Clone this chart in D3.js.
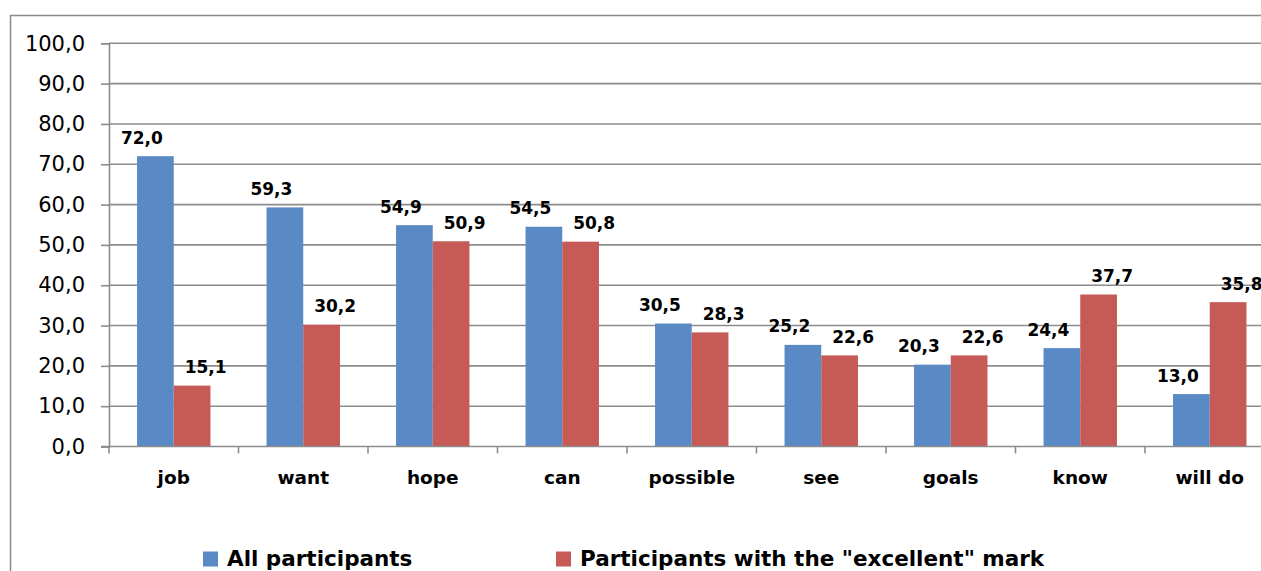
<!DOCTYPE html>
<html>
<head>
<meta charset="utf-8">
<script src="https://cdnjs.cloudflare.com/ajax/libs/d3/7.8.5/d3.min.js"></script>
<style>
  html, body { margin: 0; padding: 0; background: #fff; }
  svg { display: block; }
  text { font-family: "DejaVu Sans", sans-serif; fill: #000; }
</style>
</head>
<body>
<svg id="chart" width="1261" height="571"></svg>
<script>
// Word categories and the two series (percent)
const categories = ["job", "want", "hope", "can", "possible", "see", "goals", "know", "will do"];
const allParticipants = [72.0, 59.3, 54.9, 54.5, 30.5, 25.2, 20.3, 24.4, 13.0];
const excellentMark   = [15.1, 30.2, 50.9, 50.8, 28.3, 22.6, 22.6, 37.7, 35.8];
const seriesNames = ["All participants", "Participants with the \"excellent\" mark"];
const seriesColors = ["#5A8AC6", "#C55A57"];
const yTicks = [0, 10, 20, 30, 40, 50, 60, 70, 80, 90, 100];

const svg = d3.select("#chart");
const fmt = v => d3.format(".1f")(v).replace(".", ",");

// Outer chart frame (continues past the visible area)
svg.append("rect")
  .attr("x", 10.5).attr("y", 15.5)
  .attr("width", 1300).attr("height", 600)
  .attr("fill", "none").attr("stroke", "#8a8a8a").attr("stroke-width", 1.5);

const plot = { left: 109, right: 1274.5, top: 43.3, bottom: 446.5 };

const y = d3.scaleLinear().domain([0, 100]).range([plot.bottom, plot.top]);
const x0 = d3.scaleBand().domain(categories).range([plot.left, plot.right]).padding(0);
const x1 = d3.scaleBand().domain([0, 1]).range([0, x0.bandwidth()]).paddingInner(0).paddingOuter(0.764);

// Horizontal gridlines
svg.append("g").selectAll("line").data(yTicks.filter(t => t > 0)).join("line")
  .attr("x1", plot.left).attr("x2", 1300)
  .attr("y1", d => y(d)).attr("y2", d => y(d))
  .attr("stroke", "#8c8c8c").attr("stroke-width", 1.6);

// Y axis
const yAxis = svg.append("g")
  .attr("transform", `translate(${plot.left},0)`)
  .call(d3.axisLeft(y).tickValues(yTicks).tickFormat(fmt).tickSize(8).tickPadding(16));
yAxis.select(".domain").attr("stroke", "#8c8c8c").attr("stroke-width", 1.6);
yAxis.selectAll(".tick line").attr("stroke", "#8c8c8c").attr("stroke-width", 1.6);
yAxis.selectAll(".tick text")
  .attr("font-family", "DejaVu Sans").attr("font-size", 21).attr("fill", "#111");

// Bars
const groups = svg.append("g").selectAll("g").data(categories).join("g")
  .attr("transform", d => `translate(${x0(d)},0)`);

const seriesData = [allParticipants, excellentMark];
groups.selectAll("rect")
  .data((d, i) => seriesData.map((s, k) => ({ k, v: s[i] })))
  .join("rect")
  .attr("x", d => x1(d.k))
  .attr("width", x1.bandwidth())
  .attr("y", d => y(d.v))
  .attr("height", d => y(0) - y(d.v))
  .attr("fill", d => seriesColors[d.k]);

// Value labels above bars
groups.selectAll("text.val")
  .data((d, i) => seriesData.map((s, k) => ({ k, v: s[i] })))
  .join("text")
  .attr("class", "val")
  .attr("x", d => x1(d.k) + x1.bandwidth() / 2 + (d.k === 0 ? -13.5 : 13.5))
  .attr("y", d => y(d.v) - 12.5)
  .attr("text-anchor", "middle")
  .attr("font-size", 17).attr("font-weight", "bold")
  .text(d => fmt(d.v));

// X axis
const xAxis = svg.append("g")
  .attr("transform", `translate(0,${plot.bottom})`)
  .call(d3.axisBottom(x0).tickSize(0).tickPadding(0));
xAxis.select(".domain").remove();
xAxis.selectAll(".tick text").remove();
svg.append("line")
  .attr("x1", plot.left - 8).attr("x2", 1300)
  .attr("y1", plot.bottom).attr("y2", plot.bottom)
  .attr("stroke", "#8c8c8c").attr("stroke-width", 1.6);
svg.append("g").selectAll("line").data(d3.range(categories.length + 1)).join("line")
  .attr("x1", i => plot.left + i * x0.step()).attr("x2", i => plot.left + i * x0.step())
  .attr("y1", plot.bottom).attr("y2", plot.bottom + 7)
  .attr("stroke", "#8c8c8c").attr("stroke-width", 1.6);
svg.append("g").selectAll("text").data(categories).join("text")
  .attr("x", d => x0(d) + x0.bandwidth() / 2)
  .attr("y", 484)
  .attr("text-anchor", "middle")
  .attr("font-size", 18.5).attr("font-weight", "bold")
  .text(d => d);

// Legend
const legendX = [203, 556];
const legend = svg.append("g").selectAll("g").data(seriesNames).join("g")
  .attr("transform", (d, i) => `translate(${legendX[i]},0)`);
legend.append("rect")
  .attr("x", 0).attr("y", 551.5).attr("width", 15).attr("height", 15)
  .attr("fill", (d, i) => seriesColors[i]);
legend.append("text")
  .attr("x", 24).attr("y", 565.5)
  .attr("font-size", 21.5).attr("font-weight", "bold")
  .text(d => d);
</script>
</body>
</html>
